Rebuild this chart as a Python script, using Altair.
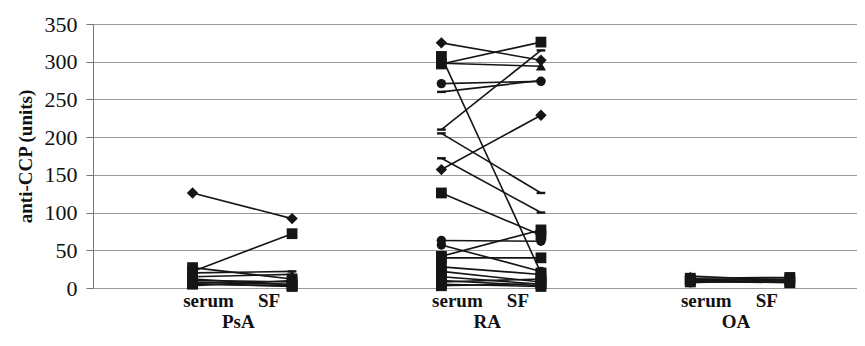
import altair as alt
import pandas as pd

# ---- data ----
groups = ["PsA", "RA", "OA"]
group_slot = [2, 7, 12]          # category slot of the "serum" column of each group
samples = ["serum", "SF"]
sample_step = [0, 2]             # SF column sits two slots right of serum

psa_serum = [126, 22, 27, 20, 15, 10, 8, 5, 3, 12, 6]
psa_sf = [92, 72, 12, 22, 18, 8, 5, 3, 10, 4, 2]
psa_marker = ["diamond", "square", "square", "dash", "triangle", "square",
              "circle", "square", "dash", "square", "square"]

ra_serum = [325, 307, 297, 298, 271, 260, 210, 205, 172, 157, 126,
            63, 57, 42, 40, 28, 22, 15, 10, 8, 5, 3]
ra_sf = [302, 20, 326, 294, 274, 275, 315, 126, 100, 229, 70,
         62, 22, 77, 40, 18, 8, 5, 3, 12, 2, 6]
ra_marker = ["diamond", "square", "square", "triangle", "circle", "dash",
             "dash", "dash", "dash", "diamond", "square", "circle", "circle",
             "square", "square", "square", "square", "square", "circle",
             "square", "square", "square"]

oa_serum = [16, 13, 11, 10, 8, 7, 9]
oa_sf = [10, 14, 12, 9, 8, 11, 7]
oa_marker = ["triangle", "square", "square", "dash", "square", "circle", "square"]

y_ticks = [0, 50, 100, 150, 200, 250, 300, 350]

# ---- build tables ----
series = {
    "PsA": (psa_serum, psa_sf, psa_marker),
    "RA": (ra_serum, ra_sf, ra_marker),
    "OA": (oa_serum, oa_sf, oa_marker),
}
rows = []
for g, slot in zip(groups, group_slot):
    s_vals, f_vals, marks = series[g]
    for i, (a, b, m) in enumerate(zip(s_vals, f_vals, marks)):
        for smp, step, v in zip(samples, sample_step, (a, b)):
            rows.append(dict(pid=f"{g}{i}", group=g, sample=smp,
                             pos=slot + step, value=v, marker=m))
df = pd.DataFrame(rows)

sub_df = pd.DataFrame([dict(pos=slot + step, text=smp)
                       for slot in group_slot
                       for smp, step in zip(samples, sample_step)])
grp_df = pd.DataFrame(dict(pos=[s + 1 for s in group_slot], text=groups))

FONT = "Liberation Serif"
xscale = alt.Scale(domain=[0, 15.35], nice=False, zero=False)
x = alt.X("pos:Q", scale=xscale, axis=None)
y = alt.Y("value:Q",
          scale=alt.Scale(domain=[0, 350], nice=False),
          axis=alt.Axis(values=y_ticks, title="anti-CCP (units)",
                        labelFont=FONT, labelFontSize=22, labelColor="#111",
                        titleFont=FONT, titleFontSize=19, titleFontWeight="bold",
                        titleColor="#111", titlePadding=9,
                        tickSize=7, tickColor="#777", domainColor="#777",
                        gridColor="#9a9a9a", gridWidth=1, labelPadding=9))

dash_path = "M-1,-0.28L1,-0.28L1,0.28L-1,0.28Z"
shape_scale = alt.Scale(domain=["diamond", "square", "triangle", "circle", "dash"],
                        range=["diamond", "square", "triangle-up", "circle", dash_path])
size_scale = alt.Scale(domain=["diamond", "square", "triangle", "circle", "dash"],
                       range=[130, 75, 80, 75, 95])

lines = alt.Chart(df).mark_line(color="#151515", strokeWidth=1.6).encode(
    x=x, y=y, detail="pid:N", order="pos:Q")
points = alt.Chart(df).mark_point(filled=True, color="#151515", opacity=1).encode(
    x=x, y=y,
    shape=alt.Shape("marker:N", scale=shape_scale, legend=None),
    size=alt.Size("marker:N", scale=size_scale, legend=None))

serum_lbl = alt.Chart(sub_df).transform_filter("datum.text == 'serum'").mark_text(
    font=FONT, fontSize=19, fontWeight="bold", color="#111", dx=16,
    baseline="middle").encode(x=x, y=alt.value(277), text="text:N")
sf_lbl = alt.Chart(sub_df).transform_filter("datum.text == 'SF'").mark_text(
    font=FONT, fontSize=19, fontWeight="bold", color="#111", dx=-23,
    baseline="middle").encode(x=x, y=alt.value(277), text="text:N")
grp_lbl = alt.Chart(grp_df).mark_text(
    font=FONT, fontSize=19, fontWeight="bold", color="#111", dx=-4,
    baseline="middle").encode(x=x, y=alt.value(298), text="text:N")

chart = alt.layer(lines, points, serum_lbl, sf_lbl, grp_lbl).properties(
    width=764, height=264,
    autosize=alt.AutoSizeParams(type="none"),
    padding={"left": 85, "top": 16, "right": 0, "bottom": 44},
    background="white",
).configure_view(strokeWidth=0)

chart.save("out.html", embed_options={"renderer": "svg", "actions": False})
